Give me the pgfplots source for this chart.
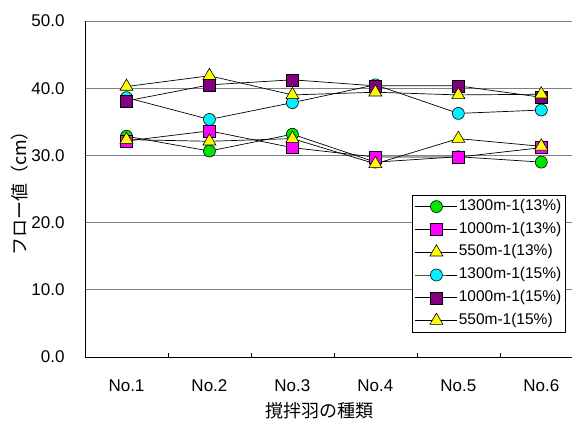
\documentclass[border=0pt]{standalone}
\usepackage{fontspec}
\setmainfont{Liberation Sans}
\newfontfamily\cjk{Noto Sans CJK JP}
\usepackage{pgfplots}
\pgfplotsset{compat=1.18}
\definecolor{cgreen}{RGB}{0,230,0}
\definecolor{cmag}{RGB}{255,0,255}
\definecolor{cyel}{RGB}{255,255,0}
\definecolor{ccyan}{RGB}{0,240,255}
\definecolor{cpurp}{RGB}{128,0,128}
\definecolor{cgrid}{RGB}{128,128,128}
\begin{document}
\begin{tikzpicture}
\begin{axis}[
  at={(0,0)}, anchor=south west,
  scale only axis, width=487pt, height=336pt,
  xmin=-0.5, xmax=5.37, ymin=0, ymax=50,
  axis x line*=bottom, axis y line*=left,
  axis line style={black, line width=0.8pt, -},
  xtick={0,1,2,3,4,5},
  xticklabels={No.1,No.2,No.3,No.4,No.5,No.6},
  minor xtick={0.5,1.5,2.5,3.5,4.5},
  major tick length=0pt, minor tick length=4pt, tick align=inside,
  minor tick style={black, line width=0.6pt},
  ytick={0,10,20,30,40,50},
  ymajorgrids, grid style={cgrid, line width=0.9pt},
  yticklabel style={/pgf/number format/.cd, fixed, fixed zerofill, precision=1, /tikz/.cd, font=\fontsize{17}{19}\selectfont, anchor=east, xshift=-17pt},
  /pgf/number format/assume math mode=true,
  xticklabel style={font=\fontsize{17}{19}\selectfont, anchor=north, yshift=-19pt},
  xlabel={\cjk 撹拌羽の種類},
  xlabel style={font=\fontsize{18}{20}\selectfont, at={(axis description cs:0.4825,-0.161)}, anchor=center},
  ylabel={\cjk フロー値（cm）},
  ylabel style={font=\fontsize{18}{20}\selectfont, at={(axis description cs:-0.1335,0.5)}, anchor=center, rotate=0},
  legend style={at={(0.671,0.482)}, anchor=north west, draw=black, line width=0.6pt, fill=white,
    font=\fontsize{15.5}{17}\selectfont, row sep=6.3pt, inner sep=3pt,
    nodes={inner sep=1pt, text height=11pt, text depth=3.5pt}},
  legend cell align=left,
  legend image code/.code={\draw[mark repeat=2,mark phase=2,#1] plot coordinates {(0pt,0pt) (21pt,0pt) (42pt,0pt)};},
  clip=false,
]
\addplot[black, line width=0.7pt, mark=*, mark size=6pt, mark options={fill=cgreen, draw=black, line width=0.6pt}]
  coordinates {(0,32.85) (1,30.65) (2,33.15) (3,29.0) (4,29.8) (5,29.0)};
\addlegendentry{1300m-1(13\%)}
\addplot[black, line width=0.7pt, mark=square*, mark size=6pt, mark options={fill=cmag, draw=black, line width=0.6pt}]
  coordinates {(0,32.15) (1,33.65) (2,31.15) (3,29.75) (4,29.75) (5,31.15)};
\addlegendentry{1000m-1(13\%)}
\addplot[black, line width=0.7pt, mark=triangle*, mark size=7.5pt, mark options={fill=cyel, draw=black, line width=0.6pt}]
  coordinates {(0,32.35) (1,32.1) (2,32.5) (3,28.75) (4,32.5) (5,31.35)};
\addlegendentry{550m-1(13\%)}
\addplot[black, line width=0.7pt, mark=*, mark size=6pt, mark options={fill=ccyan, draw=black, line width=0.6pt}]
  coordinates {(0,38.6) (1,35.35) (2,37.85) (3,40.5) (4,36.25) (5,36.75)};
\addlegendentry{1300m-1(15\%)}
\addplot[black, line width=0.7pt, mark=square*, mark size=6pt, mark options={fill=cpurp, draw=black, line width=0.6pt}]
  coordinates {(0,38.1) (1,40.5) (2,41.25) (3,40.35) (4,40.35) (5,38.65)};
\addlegendentry{1000m-1(15\%)}
\addplot[black, line width=0.7pt, mark=triangle*, mark size=7.5pt, mark options={fill=cyel, draw=black, line width=0.6pt}]
  coordinates {(0,40.25) (1,41.85) (2,39.0) (3,39.4) (4,39.0) (5,39.1)};
\addlegendentry{550m-1(15\%)}
\end{axis}
\pgfresetboundingbox
\useasboundingbox (-85pt,-64pt) rectangle (487pt,357pt);
\end{tikzpicture}
\end{document}
